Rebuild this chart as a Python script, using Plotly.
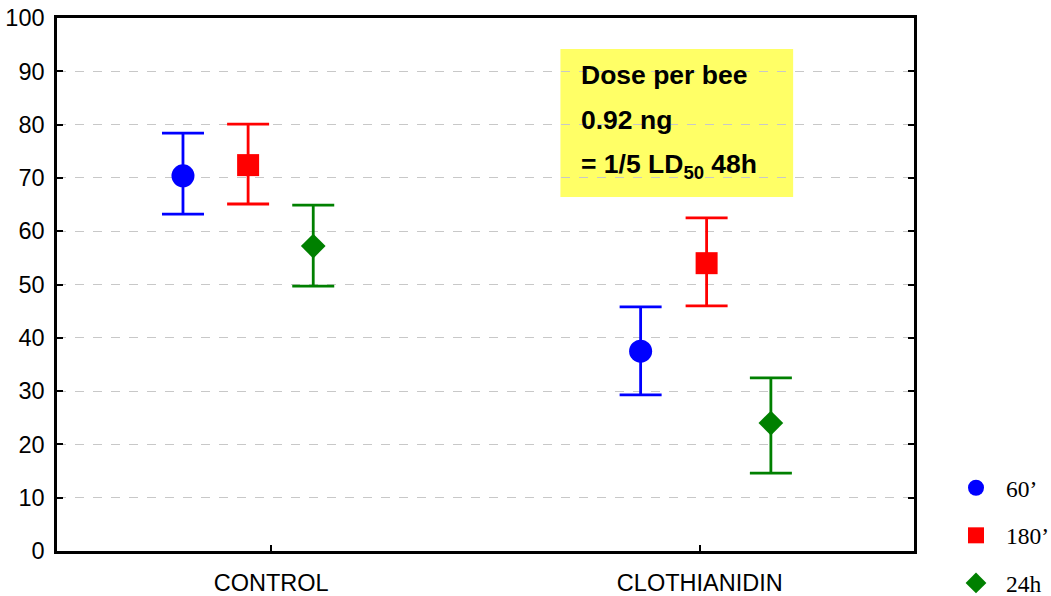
import plotly.graph_objects as go

# ---- data ----
groups = ["CONTROL", "CLOTHIANIDIN"]
group_pos = [0.5, 1.5]
series_names = ["60’", "180’", "24h"]
x_positions = {
    "60’": [0.294, 1.362],
    "180’": [0.446, 1.516],
    "24h": [0.598, 1.666],
}
means = {
    "60’": [70.4, 37.5],
    "180’": [72.4, 54.0],
    "24h": [57.2, 24.0],
}
upper = {
    "60’": [78.4, 45.8],
    "180’": [80.1, 62.5],
    "24h": [64.9, 32.5],
}
lower = {
    "60’": [63.2, 29.3],
    "180’": [65.1, 46.0],
    "24h": [49.7, 14.6],
}
y_ticks = [0, 10, 20, 30, 40, 50, 60, 70, 80, 90, 100]
box_lines = ["Dose per bee", "0.92 ng", "= 1/5 LD<sub>50</sub> 48h"]

# ---- layout geometry (pixels of the 1051x596 view) ----
W, H = 1066, 625
L, T = 57, 18
PLOT_RIGHT, PLOT_BOTTOM = 915, 551
R, B = W - PLOT_RIGHT, H - PLOT_BOTTOM
PW, PH = PLOT_RIGHT - L, PLOT_BOTTOM - T


def px(x):  # pixel x -> paper
    return (x - L) / PW


def py(y):  # pixel y -> paper
    return 1 - (y - T) / PH


# ---- styles ----
colors = {"60’": "#0000FF", "180’": "#FF0000", "24h": "#008000"}
symbols = {"60’": "circle", "180’": "square", "24h": "diamond"}
sizes = {"60’": 23, "180’": 22, "24h": 19}

fig = go.Figure()
for s in series_names:
    m = means[s]
    fig.add_trace(go.Scatter(
        x=x_positions[s], y=m, mode="markers", name=s,
        legendgroup=s,
        marker=dict(color=colors[s], symbol=symbols[s], size=sizes[s],
                    line=dict(width=0)),
        error_y=dict(type="data", symmetric=False,
                     array=[u - v for u, v in zip(upper[s], m)],
                     arrayminus=[v - l for v, l in zip(m, lower[s])],
                     color=colors[s], thickness=2.8, width=21),
    ))

# yellow box
fig.add_shape(type="rect", xref="paper", yref="paper",
              x0=px(561), x1=px(794), y0=py(197), y1=py(49),
              fillcolor="#FFFF66", line=dict(width=0), layer="below")
for k, t in enumerate(box_lines):
    fig.add_annotation(xref="paper", yref="paper",
                       x=px(580), y=py(75 + k * 45.5),
                       text=t, showarrow=False, xanchor="left", yanchor="middle",
                       font=dict(family="Liberation Sans, Arial", size=26.5,
                                 color="black", weight="bold"))

fig.update_layout(
    width=W, height=H,
    margin=dict(l=L, r=R, t=T, b=B),
    paper_bgcolor="white", plot_bgcolor="white",
    font=dict(family="Liberation Sans, Arial", size=23.5, color="black"),
    showlegend=True,
    legend=dict(x=px(946), y=py(466), xanchor="left", yanchor="top",
                font=dict(family="Liberation Serif, Times New Roman", size=23.5),
                traceorder="grouped", tracegroupgap=14,
                bgcolor="rgba(0,0,0,0)", itemwidth=50),
)
fig.update_xaxes(range=[0, 2], tickvals=group_pos, ticktext=groups,
                 automargin=False, ticklabelstandoff=9, ticklabeloverflow="allow",
                 showgrid=False, zeroline=False,
                 showline=True, linecolor="black", linewidth=2.5, mirror=True,
                 ticks="inside", ticklen=6, tickcolor="black", tickwidth=2)
fig.update_yaxes(range=[0, 100], tickvals=y_ticks, automargin=False,
                 ticklabelstandoff=5, ticklabeloverflow="allow",
                 showgrid=True, gridcolor="#c8c8c8", griddash="dash", gridwidth=1,
                 zeroline=False,
                 showline=True, linecolor="black", linewidth=2.5, mirror="ticks",
                 ticks="inside", ticklen=6, tickcolor="black", tickwidth=2)

fig.write_html("out.html", config={"displayModeBar": False},
               post_script="document.body.style.margin='0';document.body.style.overflow='hidden';")
